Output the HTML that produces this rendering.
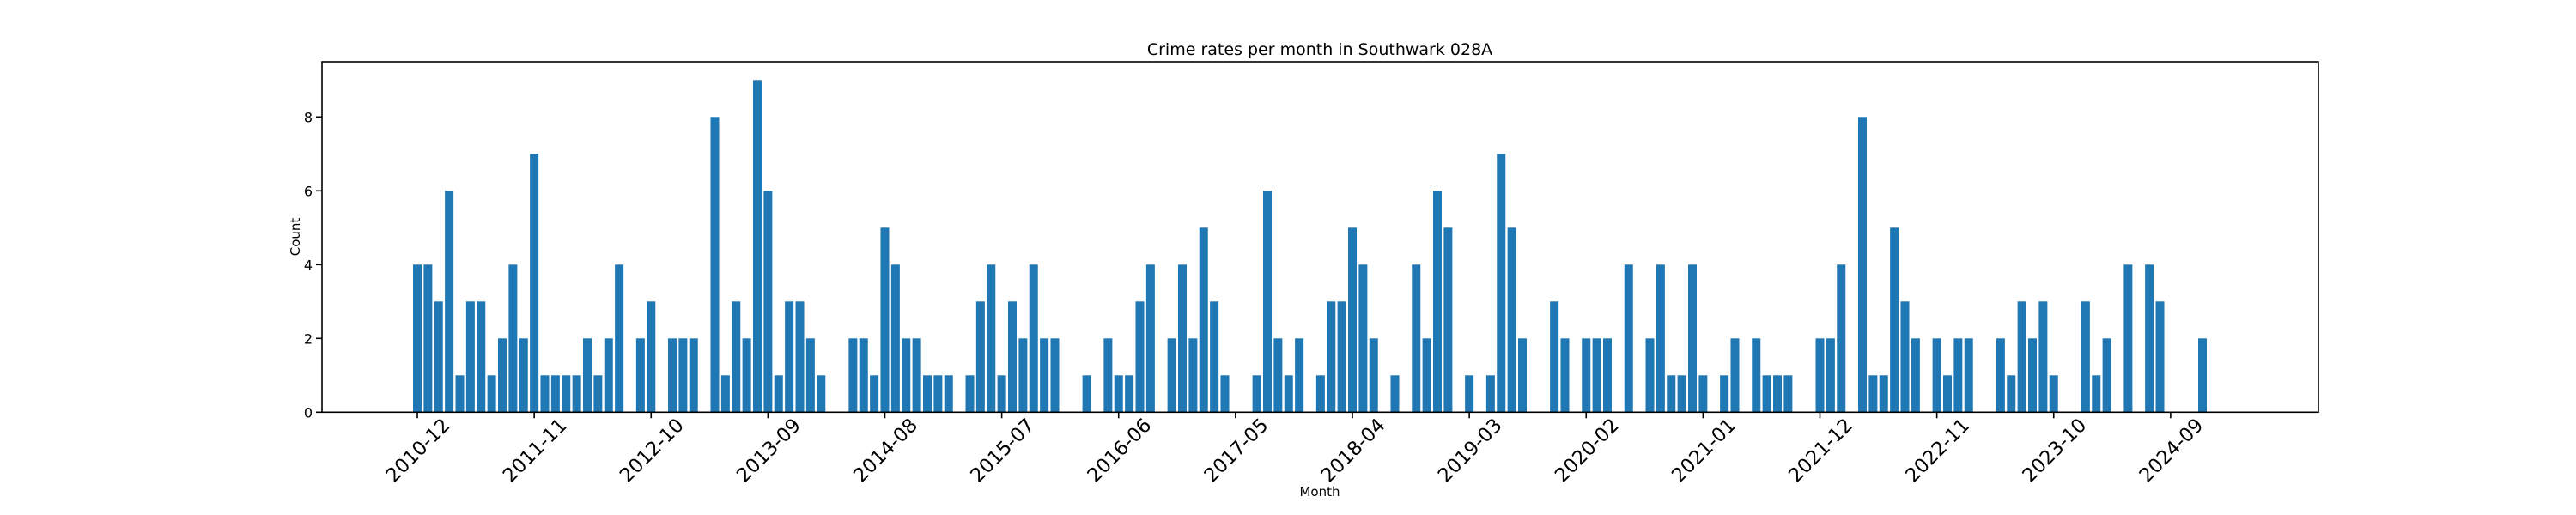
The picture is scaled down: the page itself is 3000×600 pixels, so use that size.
<!DOCTYPE html>
<html><head><meta charset="utf-8"><style>
html,body{margin:0;padding:0;background:#fff;width:3000px;height:600px;overflow:hidden}
text{font-family:"DejaVu Sans","Liberation Sans",sans-serif;fill:#000}
</style></head><body>
<svg id="chart" width="3000" height="600" viewBox="0 0 3000 600" xmlns="http://www.w3.org/2000/svg">
<text x="1537" y="64" font-size="19" text-anchor="middle">Crime rates per month in Southwark 028A</text>
<g id="bars"></g>
<g id="xticks"></g>
<g id="yticks"></g>
<rect x="375" y="72" width="2325" height="408.3" fill="none" stroke="#000" stroke-width="1.6"/>
<text x="0" y="0" font-size="15" text-anchor="middle" transform="translate(349,276) rotate(-90)">Count</text>
<text x="1537" y="578" font-size="15" text-anchor="middle">Month</text>
</svg>
<script>
const counts = [4,4,3,6,1,3,3,1,2,4,2,7,1,1,1,1,2,1,2,4,0,2,3,0,2,2,2,0,8,1,
3,2,9,6,1,3,3,2,1,0,0,2,2,1,5,4,2,2,1,1,1,0,1,3,4,1,3,2,4,2,
2,0,0,1,0,2,1,1,3,4,0,2,4,2,5,3,1,0,0,1,6,2,1,2,0,1,3,3,5,4,
2,0,1,0,4,2,6,5,0,1,0,1,7,5,2,0,0,3,2,0,2,2,2,0,4,0,2,4,1,1,
4,1,0,1,2,0,2,1,1,1,0,0,2,2,4,0,8,1,1,5,3,2,0,2,1,2,2,0,0,2,
1,3,2,3,1,0,0,3,1,2,0,4,0,4,3,0,0,0,2];
const startYear = 2010, startMonth = 12;
const tickLabels = ["2010-12","2011-11","2012-10","2013-09","2014-08","2015-07","2016-06","2017-05","2018-04","2019-03","2020-02","2021-01","2021-12","2022-11","2023-10","2024-09"];
const yTicks = [0,2,4,6,8];

const NS = "http://www.w3.org/2000/svg";
const x0 = 486, dx = 12.375, y0 = 480.3, ky = 43.0, bw = 10;
function xScale(i){ return x0 + dx*i; }
function yScale(v){ return y0 - ky*v; }
function monthIndex(lbl){ const [y,m] = lbl.split("-").map(Number); return (y-startYear)*12 + (m-startMonth); }

const bars = document.getElementById("bars");
counts.forEach((v,i)=>{
  if(!v) return;
  const r = document.createElementNS(NS,"rect");
  r.setAttribute("x", xScale(i)-bw/2);
  r.setAttribute("y", yScale(v));
  r.setAttribute("width", bw);
  r.setAttribute("height", y0 - yScale(v));
  r.setAttribute("fill", "#1f77b4");
  
  
  bars.appendChild(r);
});

const xt = document.getElementById("xticks");
tickLabels.forEach(l=>{
  const x = xScale(monthIndex(l));
  const t = document.createElementNS(NS,"line");
  t.setAttribute("x1",x); t.setAttribute("x2",x);
  t.setAttribute("y1",y0); t.setAttribute("y2",y0+7);
  t.setAttribute("stroke","#000"); t.setAttribute("stroke-width","1.6");
  
  
  xt.appendChild(t);
  const tx = document.createElementNS(NS,"text");
  tx.setAttribute("x",0); tx.setAttribute("y",0);
  tx.setAttribute("font-size","22.5");
  tx.setAttribute("text-anchor","middle");
  tx.setAttribute("dominant-baseline","central");
  tx.setAttribute("transform","translate("+(x+1)+",525) rotate(-45)");
  tx.textContent = l;
  
  
  xt.appendChild(tx);
});

const yt = document.getElementById("yticks");
yTicks.forEach(v=>{
  const y = yScale(v);
  const t = document.createElementNS(NS,"line");
  t.setAttribute("x1",368); t.setAttribute("x2",375);
  t.setAttribute("y1",y); t.setAttribute("y2",y);
  t.setAttribute("stroke","#000"); t.setAttribute("stroke-width","1.6");
  
  
  yt.appendChild(t);
  const tx = document.createElementNS(NS,"text");
  tx.setAttribute("x",364); tx.setAttribute("y",y+6);
  tx.setAttribute("font-size","16");
  tx.setAttribute("text-anchor","end");
  tx.textContent = v;
  
  
  yt.appendChild(tx);
});
</script>
</body></html>
